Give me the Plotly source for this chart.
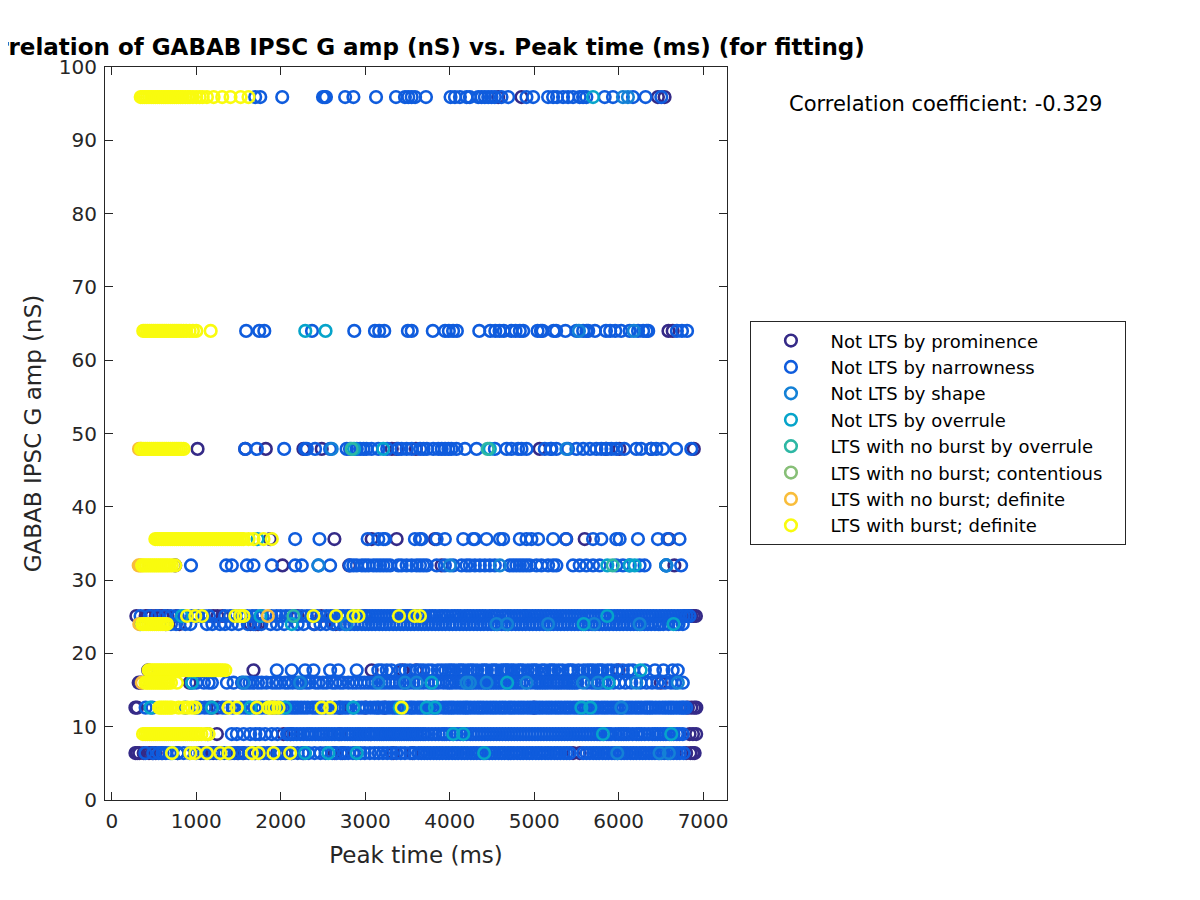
"""
Correlation of GABAB IPSC G amp vs. peak time, values read off the reference.
Each list holds the peak times (ms) of one class at one conductance level.
"""

import plotly.graph_objects as go

TITLE = "Correlation of GABAB IPSC G amp (nS) vs. Peak time (ms) (for fitting)"
X_LABEL = "Peak time (ms)"
Y_LABEL = "GABAB IPSC G amp (nS)"
CORR_TEXT = "Correlation coefficient: -0.329"

X_TICKS = [0, 1000, 2000, 3000, 4000, 5000, 6000, 7000]
Y_TICKS = [0, 10, 20, 30, 40, 50, 60, 70, 80, 90, 100]

# trailing no-break spaces widen the legend box to the reference width
CLASS_NAMES = [
    "Not LTS by prominence", "Not LTS by narrowness", "Not LTS by shape",
    "Not LTS by overrule", "LTS with no burst by overrule",
    "LTS with no burst; contentious\u00a0\u00a0\u00a0", "LTS with no burst; definite",
    "LTS with burst; definite",
]
CLASS_COLORS = ["#352a87", "#0f5cdd", "#1481d6", "#06a4ca",
                "#2eb7a4", "#87bf77", "#f9bd3a", "#f9fb0e"]

# --- prominence
prom_959 = [4574, 4850, 6465, 6544]
prom_640 = [6590, 6640]
prom_479 = [1015, 1579, 1823, 2268, 2485, 3315, 3372, 3600, 5065, 5850, 6010, 6385, 6890]
prom_356 = [1874, 2635, 3076, 3372, 3825, 5380, 5598, 6595]
prom_320 = [750, 2020, 2810, 3904, 6660]
prom_251 = [290, 400, 425, 470, 520, 560, 600, 660, 760, 1200, 1250, 1310, 2200, 2480,
            3000, 3500, 4900, 6780, 6830, 6860, 6890, 6915]
prom_240 = [640, 800, 1640, 1700, 1735, 2400, 2650]
prom_177 = [430, 1677, 3076, 3440, 3600, 6000]
prom_160 = [318, 345, 920, 6500]
prom_126 = [279, 300, 1185, 1250, 1900, 2700, 3000, 3230, 5000, 6820, 6860, 6895, 6920]
prom_90 = [1244, 2032, 2120, 2700, 3060, 6840, 6880, 6918]
prom_64 = [279, 300, 325, 377, 440, 480, 520, 590, 780, 1050, 1200, 1280, 1410, 1490, 1560,
           1700, 1860, 1960, 2000, 2050, 2130, 2270, 2640, 2730, 2890, 3330, 3560, 5460,
           5539, 6800, 6850, 6880, 6900]

# --- narrowness
narrow_959 = [1697, 1757, 2017, 2500, 2520, 2535, 2762, 2860, 3128, 3364, 3470, 3510,
              3550, 3590, 3719, 4010, 4062, 4121, 4200, 4239, 4337, 4377, 4416, 4456,
              4495, 4534, 4613, 4692, 4909, 4988, 5165, 5224, 5271, 5342, 5401, 5460,
              5539, 5579, 5618, 5835, 5933, 6170, 6319, 6505]
narrow_640 = [1590, 1745, 1805, 2370, 2870, 3115, 3165, 3225, 3505, 3550, 3800, 3945,
              3990, 4040, 4085, 4350, 4480, 4540, 4590, 4640, 4730, 4780, 4830, 4870,
              5040, 5080, 5100, 5230, 5260, 5370, 5500, 5580, 5620, 5640, 5720, 5850,
              5900, 5960, 6030, 6130, 6230, 6290, 6330, 6350, 6690, 6750, 6810]
narrow_479 = [1579, 1717, 2040, 2288, 2308, 2406, 2584, 2780, 2820, 2900, 2940, 2980,
              3015, 3075, 3155, 3260, 3390, 3430, 3490, 3550, 3650, 3690, 3730, 3805,
              3865, 3905, 3945, 3985, 4020, 4080, 4180, 4318, 4535, 4672, 4732, 4810,
              4850, 4910, 5126, 5195, 5204, 5263, 5401, 5500, 5580, 5660, 5736, 5795,
              5855, 5914, 5973, 6067, 6209, 6267, 6385, 6446, 6525, 6680, 6860]
narrow_356 = [2170, 2458, 3029, 3155, 3214, 3235, 3588, 3647, 3668, 3845, 3943, 4160,
              4278, 4298, 4436, 4594, 4633, 4830, 4909, 4968, 5047, 5224, 5375, 5697,
              5795, 5972, 6012, 6229, 6465, 6580, 6721]
narrow_320 = [937, 1354, 1421, 1599, 1677, 1894, 2170, 2249, 2446, 2584, 2820, 2860,
              2900, 2960, 3000, 3040, 3095, 3135, 3175, 3215, 3255, 3295, 3392, 3431,
              3490, 3549, 3608, 3648, 3688, 3727, 3845, 3943, 4042, 4140, 4199, 4239,
              4298, 4357, 4416, 4475, 4534, 4711, 4751, 4790, 4830, 4869, 4909, 4948,
              5027, 5086, 5165, 5224, 5263, 5460, 5539, 5618, 5697, 5775, 5973, 6051,
              6130, 6248, 6307, 6563, 6740]
narrow_251 = [340, 450, 540, 630, 700, 780, 860, 950, 1020, 1090, 1150, 1340, 1400, 1450,
              1520, 1600, 1660, 1710, 1780, 1890, 1950, 2000, 2060, 2110, 2170, 2250, 2310,
              2360, 2430, 2540, 2590, 2630, 2700, 2740, 2790, 2830, 2890, 2925, 2960, 3015,
              3050, 3085, 3120, 3155, 3190, 3225, 3260, 3295, 3330, 3365, 3400, 3445, 3480,
              3525, 3560, 3595, 3630, 3680, 3715, 3760, 3795, 3830, 3875, 3910, 3945, 3980,
              4025, 4060, 4095, 4130, 4175, 4210, 4245, 4280, 4320, 4355, 4390, 4425, 4470,
              4505, 4540, 4575, 4620, 4655, 4690, 4725, 4765, 4800, 4835, 4870, 4905, 4945,
              4980, 5015, 5050, 5085, 5125, 5160, 5195, 5230, 5265, 5305, 5340, 5375, 5410,
              5445, 5480, 5515, 5550, 5590, 5625, 5660, 5695, 5730, 5770, 5805, 5840, 5875,
              5910, 5950, 5985, 6020, 6055, 6095, 6130, 6165, 6200, 6235, 6270, 6305, 6340,
              6375, 6410, 6445, 6485, 6520, 6555, 6590, 6625, 6660, 6700, 6735, 6770, 6805,
              6840]
narrow_240 = [700, 760, 870, 930, 1125, 1190, 1280, 1340, 1420, 1500, 1610, 1680, 1770,
              1880, 1955, 2040, 2200, 2270, 2390, 2470, 2540, 2620, 2700, 2760, 2820, 2870,
              2910, 2960, 3000, 3040, 3080, 3120, 3165, 3205, 3245, 3285, 3330, 3370, 3415,
              3455, 3500, 3540, 3580, 3625, 3665, 3705, 3745, 3790, 3830, 3870, 3910, 3950,
              3995, 4035, 4075, 4120, 4160, 4200, 4240, 4285, 4325, 4365, 4405, 4450, 4490,
              4530, 4570, 4615, 4655, 4695, 4735, 4780, 4820, 4860, 4900, 4945, 4985, 5025,
              5065, 5110, 5150, 5190, 5230, 5275, 5315, 5355, 5395, 5440, 5480, 5520, 5560,
              5605, 5645, 5685, 5725, 5770, 5810, 5850, 5890, 5935, 5975, 6015, 6055, 6100,
              6140, 6180, 6220, 6265, 6305, 6345, 6385, 6430, 6470, 6490, 6530, 6590, 6680,
              6710, 6760]
narrow_177 = [1953, 2130, 2288, 2387, 2584, 2682, 2899, 3155, 3195, 3255, 3310, 3410,
              3475, 3530, 3610, 3650, 3690, 3745, 3790, 3860, 3905, 3950, 3990, 4020, 4055,
              4105, 4135, 4165, 4215, 4250, 4280, 4325, 4380, 4410, 4440, 4495, 4525, 4555,
              4610, 4640, 4665, 4690, 4730, 4760, 4810, 4840, 4870, 4925, 4970, 5000, 5030,
              5090, 5125, 5180, 5210, 5240, 5290, 5335, 5400, 5430, 5460, 5525, 5585, 5630,
              5665, 5700, 5750, 5780, 5810, 5870, 5915, 5975, 6050, 6120, 6170, 6310, 6430,
              6530, 6640, 6700]
narrow_160 = [950, 1000, 1090, 1146, 1185, 1362, 1441, 1540, 1590, 1630, 1670, 1730, 1775,
              1830, 1900, 1945, 1990, 2050, 2090, 2140, 2200, 2250, 2300, 2340, 2410, 2450,
              2500, 2545, 2610, 2650, 2700, 2740, 2800, 2850, 2895, 2945, 2990, 3035, 3080,
              3120, 3195, 3235, 3280, 3320, 3365, 3410, 3450, 3485, 3520, 3570, 3645, 3690,
              3745, 3790, 3830, 3870, 3925, 3970, 4000, 4030, 4075, 4120, 4155, 4190, 4220,
              4250, 4280, 4310, 4345, 4375, 4405, 4435, 4460, 4490, 4520, 4550, 4580, 4610,
              4650, 4685, 4720, 4755, 4790, 4825, 4860, 4910, 4960, 5010, 5040, 5070, 5100,
              5130, 5160, 5195, 5230, 5260, 5290, 5320, 5355, 5390, 5420, 5450, 5480, 5510,
              5625, 5680, 5720, 5760, 5800, 5840, 5880, 5940, 6010, 6080, 6150, 6260, 6330,
              6395, 6460, 6550, 6620, 6670, 6760]
narrow_126 = [400, 480, 870, 1000, 1040, 1100, 1150, 1310, 1350, 1430, 1530, 1580, 1620,
              1690, 1740, 1780, 1830, 1950, 2000, 2050, 2090, 2130, 2165, 2200, 2240, 2280,
              2320, 2370, 2405, 2440, 2480, 2530, 2585, 2640, 2685, 2730, 2765, 2800, 2860,
              2920, 2960, 3010, 3060, 3105, 3140, 3160, 3200, 3240, 3280, 3320, 3350, 3380,
              3430, 3480, 3525, 3550, 3580, 3620, 3650, 3680, 3720, 3760, 3800, 3835, 3870,
              3920, 3955, 3990, 4020, 4050, 4090, 4125, 4160, 4190, 4215, 4250, 4290, 4330,
              4365, 4400, 4440, 4480, 4515, 4550, 4590, 4625, 4660, 4700, 4735, 4770, 4810,
              4845, 4880, 4920, 4955, 4990, 5030, 5065, 5100, 5140, 5175, 5210, 5250, 5285,
              5320, 5360, 5395, 5430, 5470, 5505, 5540, 5580, 5615, 5650, 5690, 5725, 5760,
              5800, 5835, 5870, 5910, 5945, 5980, 6015, 6050, 6090, 6125, 6160, 6200, 6235,
              6270, 6310, 6340, 6370, 6400, 6440, 6480, 6520, 6555, 6590, 6620, 6650, 6685,
              6720, 6750, 6770, 6800]
narrow_90 = [1135, 1420, 1480, 1560, 1638, 1700, 1750, 1815, 1894, 1960, 2075, 2110, 2150,
             2190, 2230, 2270, 2310, 2340, 2370, 2410, 2450, 2480, 2510, 2540, 2570, 2605,
             2640, 2680, 2720, 2760, 2790, 2820, 2850, 2885, 2915, 2940, 2970, 3000, 3035,
             3070, 3110, 3140, 3170, 3195, 3220, 3250, 3280, 3305, 3330, 3355, 3380, 3405,
             3430, 3460, 3490, 3515, 3540, 3570, 3600, 3625, 3655, 3685, 3710, 3750, 3790,
             3830, 3870, 3910, 3935, 3960, 4000, 4040, 4085, 4125, 4160, 4200, 4245, 4275,
             4310, 4345, 4380, 4415, 4450, 4485, 4520, 4555, 4590, 4625, 4660, 4695, 4730,
             4765, 4800, 4835, 4870, 4905, 4940, 4975, 5010, 5045, 5080, 5115, 5150, 5185,
             5220, 5255, 5290, 5325, 5360, 5395, 5430, 5465, 5500, 5535, 5570, 5605, 5640,
             5675, 5710, 5745, 5770, 5790, 5825, 5860, 5885, 5910, 5960, 6000, 6030, 6060,
             6090, 6120, 6165, 6210, 6240, 6270, 6310, 6355, 6400, 6430, 6460, 6495, 6530,
             6560, 6600, 6650, 6690, 6720, 6760]
narrow_64 = [397, 490, 555, 600, 640, 690, 780, 850, 920, 1000, 1090, 1160, 1240, 1330,
             1390, 1450, 1500, 1550, 1620, 1690, 1760, 1800, 1860, 1970, 2000, 2060, 2130,
             2200, 2260, 2330, 2400, 2470, 2530, 2610, 2660, 2710, 2760, 2800, 2855, 2945,
             2995, 3055, 3110, 3160, 3210, 3260, 3310, 3370, 3420, 3470, 3530, 3580, 3630,
             3665, 3700, 3735, 3770, 3810, 3845, 3880, 3915, 3955, 3990, 4030, 4065, 4100,
             4140, 4175, 4210, 4250, 4285, 4320, 4360, 4395, 4430, 4470, 4505, 4540, 4580,
             4615, 4650, 4690, 4725, 4760, 4800, 4835, 4870, 4910, 4945, 4980, 5020, 5055,
             5090, 5130, 5165, 5200, 5240, 5275, 5310, 5350, 5385, 5420, 5580, 5620, 5660,
             5700, 5735, 5770, 5810, 5845, 5880, 5920, 5955, 5990, 6030, 6065, 6100, 6140,
             6175, 6210, 6250, 6285, 6320, 6360, 6395, 6430, 6470, 6505, 6540, 6580, 6615,
             6650, 6690, 6725, 6770]

# --- shape
shape_959 = [6051, 6110]
shape_640 = [5530, 6180]
shape_479 = [2603, 5382]
shape_320 = [2446, 4003, 4594, 6563, 6563, 6565]
shape_240 = [2780, 4554, 4680, 5165, 5709, 6248]
shape_160 = [1559, 2229, 3155, 3470, 3608, 4200, 4239, 4436, 4909, 5579, 5756, 6209, 6701]
shape_126 = [6032]
shape_64 = [5984, 6485, 6595]

# --- overrule
over_959 = [5697]
over_640 = [2290, 2530]
over_479 = [2867, 3214, 4475]
over_356 = [1725]
over_320 = [5866, 6130, 6190]
over_251 = [830, 1760, 2860, 5866]
over_240 = [338, 2130, 5586, 6650]
over_177 = [6260]
over_160 = [948, 3786, 4680, 5882]
over_126 = [456, 1185, 1640, 2052, 2859, 3410, 3727, 3825, 5559, 5665]
over_90 = [4042, 4160, 5815, 6623]
over_64 = [712, 2288, 2564, 2899, 4408]

# --- no burst by overrule
lts_over_251 = [2150]
lts_over_320 = [5930]
lts_over_479 = [2840, 4450]

# --- no burst, definite
lts_def_479 = [322, 345]
lts_def_320 = [318, 340]
lts_def_251 = [1847]
lts_def_240 = [325]
lts_def_160 = [355]

# --- burst, definite
burst_959 = [342, 365, 390, 415, 440, 465, 490, 515, 540, 565, 590, 615, 640, 665, 690,
             715, 740, 765, 790, 815, 840, 870, 900, 925, 960, 1000, 1040, 1075, 1126, 1205,
             1307, 1405, 1525, 1618]
burst_640 = [372, 395, 420, 445, 470, 495, 520, 545, 570, 595, 620, 645, 670, 695, 720,
             745, 770, 795, 820, 850, 880, 920, 960, 1000, 1170]
burst_479 = [345, 370, 395, 420, 445, 470, 495, 520, 545, 570, 595, 620, 645, 670, 695,
             720, 745, 770, 795, 820, 850]
burst_356 = [515, 540, 565, 590, 615, 640, 665, 690, 715, 740, 765, 790, 815, 840, 865,
             890, 915, 940, 965, 990, 1015, 1040, 1065, 1090, 1115, 1140, 1165, 1190, 1215,
             1240, 1265, 1290, 1315, 1340, 1365, 1390, 1415, 1440, 1465, 1490, 1515, 1540,
             1560, 1618, 1677, 1796, 1894]
burst_320 = [358, 380, 405, 430, 455, 480, 505, 530, 555, 580, 605, 630, 655, 680, 710, 750]
burst_251 = [890, 988, 1067, 1461, 1559, 1520, 2387, 2655, 2859, 2920, 3399, 3588, 3648]
burst_240 = [358, 380, 405, 430, 455, 480, 505, 530, 555, 580, 605, 630, 653]
burst_177 = [436, 460, 485, 510, 535, 560, 585, 610, 635, 660, 685, 710, 735, 760, 785,
             810, 835, 860, 885, 910, 935, 960, 985, 1010, 1035, 1060, 1085, 1110, 1135,
             1160, 1185, 1210, 1235, 1260, 1285, 1310, 1343]
burst_160 = [397, 420, 445, 470, 495, 520, 545, 570, 595, 620, 645, 670, 700, 771]
burst_126 = [560, 585, 610, 635, 660, 690, 712, 791, 850, 897, 948, 988, 1382, 1480,
             1717, 1855, 1890, 1925, 1973, 2485, 2584, 3431]
burst_90 = [369, 395, 420, 445, 470, 495, 520, 545, 570, 595, 620, 645, 670, 695, 720,
            745, 770, 795, 820, 845, 870, 895, 920, 945, 970, 1000, 1027, 1060, 1110, 1146]
burst_64 = [712, 929, 988, 1126, 1284, 1382, 1658, 1737, 1914, 2111]

CLASS_POINTS = [
    [(95.9, prom_959), (64.0, prom_640), (47.9, prom_479), (35.6, prom_356),
     (32.0, prom_320), (25.1, prom_251), (24.0, prom_240), (17.7, prom_177),
     (16.0, prom_160), (12.6, prom_126), (9.0, prom_90), (6.4, prom_64)],
    [(95.9, narrow_959), (64.0, narrow_640), (47.9, narrow_479), (35.6, narrow_356),
     (32.0, narrow_320), (25.1, narrow_251), (24.0, narrow_240), (17.7, narrow_177),
     (16.0, narrow_160), (12.6, narrow_126), (9.0, narrow_90), (6.4, narrow_64)],
    [(95.9, shape_959), (64.0, shape_640), (47.9, shape_479), (32.0, shape_320),
     (24.0, shape_240), (16.0, shape_160), (12.6, shape_126), (6.4, shape_64)],
    [(95.9, over_959), (64.0, over_640), (47.9, over_479), (35.6, over_356),
     (32.0, over_320), (25.1, over_251), (24.0, over_240), (17.7, over_177),
     (16.0, over_160), (12.6, over_126), (9.0, over_90), (6.4, over_64)],
    [(47.9, lts_over_479), (32.0, lts_over_320), (25.1, lts_over_251)],
    [],
    [(47.9, lts_def_479), (32.0, lts_def_320), (25.1, lts_def_251),
     (24.0, lts_def_240), (16.0, lts_def_160)],
    [(95.9, burst_959), (64.0, burst_640), (47.9, burst_479), (35.6, burst_356),
     (32.0, burst_320), (25.1, burst_251), (24.0, burst_240), (17.7, burst_177),
     (16.0, burst_160), (12.6, burst_126), (9.0, burst_90), (6.4, burst_64)],
]

_INK = "#262626"
_FONT = "DejaVu Sans, sans-serif"

fig = go.Figure()
for name, color, groups in zip(CLASS_NAMES, CLASS_COLORS, CLASS_POINTS):
    xs, ys = [], []
    for level, times in groups:
        xs += times
        ys += [level] * len(times)
    # contentious class has no visible point, keep a legend entry anyway
    fig.add_trace(go.Scatter(
        x=xs if xs else [None], y=ys if ys else [None],
        mode="markers", name=name,
        marker=dict(symbol="circle-open", size=11.6, color=color,
                    line=dict(color=color, width=2.6)),
    ))

# the page puts the figure 8 px in from the top left corner
fig.update_layout(
    width=1192, height=892,
    paper_bgcolor="white", plot_bgcolor="white",
    font=dict(family=_FONT, color=_INK, size=20),
    margin=dict(l=96.5, r=472.5, t=58.5, b=100, autoexpand=False),
    title=dict(text=TITLE, font=dict(size=23, color="black", family=_FONT, weight="bold"),
               x=0.3411, xanchor="center", xref="container",
               y=0.9563, yanchor="middle", yref="container"),
    legend=dict(x=1.0377, xanchor="left", y=0.653, yanchor="top",
                bgcolor="white", bordercolor=_INK, borderwidth=1,
                font=dict(size=18, color="black", family=_FONT),
                itemwidth=69, tracegroupgap=0),
    annotations=[dict(text=CORR_TEXT, xref="paper", yref="paper", x=1.0971, y=0.9489,
                      xanchor="left", yanchor="middle", showarrow=False,
                      font=dict(size=21, color="black", family=_FONT))],
)
fig.update_xaxes(
    range=[-81, 7283], tickvals=X_TICKS, ticks="inside", ticklen=8, tickcolor=_INK,
    showgrid=False, zeroline=False, showline=True, linecolor=_INK, linewidth=1,
    mirror="ticks", automargin=True, ticklabelstandoff=3,
    title=dict(text=X_LABEL, font=dict(size=23), standoff=14),
)
fig.update_yaxes(
    range=[0, 100], tickvals=Y_TICKS, ticks="inside", ticklen=8, tickcolor=_INK,
    showgrid=False, zeroline=False, showline=True, linecolor=_INK, linewidth=1,
    mirror="ticks", automargin=True, ticklabelstandoff=3,
    title=dict(text=Y_LABEL, font=dict(size=23), standoff=10),
)

fig.write_html("out.html")
